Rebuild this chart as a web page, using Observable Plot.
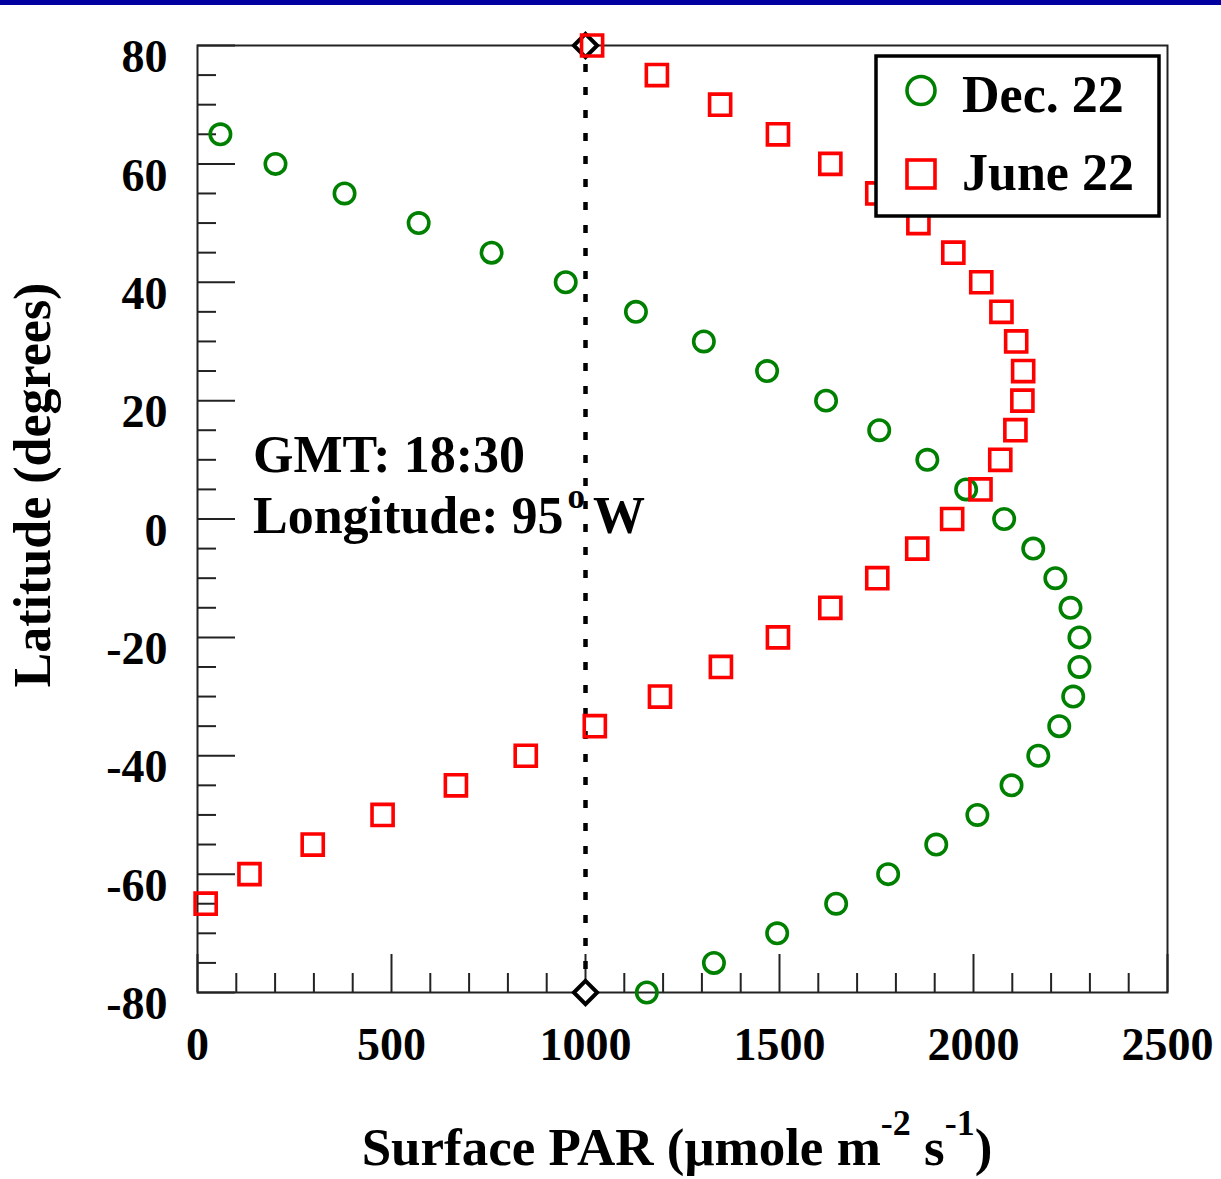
<!DOCTYPE html>
<html>
<head>
<meta charset="utf-8">
<script src="https://cdn.jsdelivr.net/npm/d3@7"></script>
<script src="https://cdn.jsdelivr.net/npm/@observablehq/plot@0.6"></script>
<style>
  html, body { margin: 0; padding: 0; background: #fff; }
  #chart svg { display: block; }
</style>
</head>
<body>
<div id="chart"></div>
<script>
// ---- Data ----
const decLatitude = [65, 60, 55, 50, 45, 40, 35, 30, 25, 20, 15, 10, 5, 0, -5, -10, -15, -20, -25, -30, -35, -40, -45, -50, -55, -60, -65, -70, -75, -80];
const decPAR = [59, 201, 379, 570, 758, 949, 1130, 1305, 1468, 1620, 1757, 1881, 1981, 2079, 2154, 2211, 2250, 2273, 2273, 2257, 2221, 2167, 2098, 2010, 1904, 1780, 1646, 1494, 1331, 1158];

const junLatitude = [80, 75, 70, 65, 60, 55, 50, 45, 40, 35, 30, 25, 20, 15, 10, 5, 0, -5, -10, -15, -20, -25, -30, -35, -40, -45, -50, -55, -60, -65];
const junPAR = [1017, 1184, 1347, 1496, 1631, 1752, 1858, 1948, 2020, 2072, 2110, 2128, 2126, 2108, 2069, 2018, 1945, 1855, 1752, 1631, 1496, 1349, 1192, 1024, 846, 666, 477, 297, 134, 21];

const seriesNames = ["Dec. 22", "June 22"];
const markerLine = { par: 1000, latFrom: -80, latTo: 80 };

const xMajorTicks = [0, 500, 1000, 1500, 2000, 2500];
const xMinorTicks = [100, 200, 300, 400, 600, 700, 800, 900, 1100, 1200, 1300, 1400, 1600, 1700, 1800, 1900, 2100, 2200, 2300, 2400];
const yMajorTicks = [-80, -60, -40, -20, 0, 20, 40, 60, 80];
const yMinorTicks = [-75, -70, -65, -55, -50, -45, -35, -30, -25, -15, -10, -5, 5, 10, 15, 25, 30, 35, 45, 50, 55, 65, 70, 75];

const xTitle = ["Surface PAR (\u03bcmole m", "-2", " s", "-1", ")"];
const yTitle = "Latitude (degrees)";
const noteLine1 = "GMT: 18:30";
const noteLine2 = ["Longitude: 95", "o", "W"];

// ---- Build tables ----
const dec = decLatitude.map((lat, i) => ({ lat, par: decPAR[i] }));
const jun = junLatitude.map((lat, i) => ({ lat, par: junPAR[i] }));
const ends = [{ par: markerLine.par, lat: markerLine.latFrom }, { par: markerLine.par, lat: markerLine.latTo }];

const W = 1221, H = 1179;
const mTop = 45, mBottom = 187, mLeft = 197, mRight = 54;
const plotH = H - mTop - mBottom;
const plotW = W - mLeft - mRight;
const GREEN = "#008000", RED = "#ff0000";
const FONT = "'Liberation Serif', 'Times New Roman', serif";

const svg = Plot.plot({
  width: W,
  height: H,
  marginTop: mTop,
  marginBottom: mBottom,
  marginLeft: mLeft,
  marginRight: mRight,
  style: { fontFamily: FONT, background: "white", color: "black", overflow: "visible" },
  x: { domain: [0, 2500] },
  y: { domain: [-80, 80] },
  marks: [
    Plot.frame({ stroke: "#222", strokeWidth: 2 }),
    // inward ticks
    Plot.ruleX(xMinorTicks, { x: d => d, insetTop: plotH - 19, stroke: "#222", strokeWidth: 2 }),
    Plot.ruleX(xMajorTicks, { x: d => d, insetTop: plotH - 38, stroke: "#222", strokeWidth: 2 }),
    Plot.ruleY(yMinorTicks, { y: d => d, insetRight: plotW - 19, stroke: "#222", strokeWidth: 2 }),
    Plot.ruleY(yMajorTicks, { y: d => d, insetRight: plotW - 38, stroke: "#222", strokeWidth: 2 }),
    Plot.axisX(xMajorTicks, { tickSize: 0, tickPadding: 35, fontSize: 46, fontWeight: "bold", tickFormat: d => String(d), label: null }),
    Plot.axisY(yMajorTicks, { tickSize: 0, tickPadding: 30, dy: 12, fontSize: 46, fontWeight: "bold", tickFormat: d => String(d), label: null }),
    // dotted reference line at 1000
    Plot.ruleX([markerLine], { x: "par", y1: "latFrom", y2: "latTo", stroke: "black", strokeWidth: 4.5, strokeDasharray: "8,15" }),
    Plot.dot(ends, { x: "par", y: "lat", symbol: "diamond2", r: 10.5, stroke: "black", strokeWidth: 4, fill: "white" }),
    // series
    Plot.dot(dec, { x: "par", y: "lat", symbol: "circle", r: 10.2, stroke: GREEN, strokeWidth: 3.6, fill: "none" }),
    Plot.dot(jun, { x: "par", y: "lat", symbol: "square", r: 11.9, stroke: RED, strokeWidth: 3.6, fill: "none" })
  ]
});

document.getElementById("chart").append(svg);
const s = d3.select(svg);

// top blue bar
s.insert("rect", ":first-child").attr("x", 0).attr("y", 0).attr("width", W).attr("height", 5).attr("fill", "#0000a0");

const g = s.append("g").attr("font-family", FONT).attr("font-weight", "bold").attr("fill", "black").attr("text-anchor", "start");

// X axis title with superscripts
const xt = g.append("text").attr("x", 677).attr("y", 1165).attr("text-anchor", "middle").attr("font-size", 53);
xt.append("tspan").text(xTitle[0]);
xt.append("tspan").attr("dy", -30).attr("font-size", 36).text(xTitle[1]);
xt.append("tspan").attr("dy", 30).attr("font-size", 53).text(xTitle[2]);
xt.append("tspan").attr("dy", -30).attr("font-size", 36).text(xTitle[3]);
xt.append("tspan").attr("dy", 30).attr("font-size", 53).text(xTitle[4]);

// Y axis title
g.append("text").attr("transform", "translate(50,485) rotate(-90)").attr("text-anchor", "middle").attr("font-size", 52).text(yTitle);

// Annotation
g.append("text").attr("x", 253).attr("y", 472).attr("text-anchor", "start").attr("font-size", 52).text(noteLine1);
const n2 = g.append("text").attr("x", 253).attr("y", 533).attr("text-anchor", "start").attr("font-size", 52);
n2.append("tspan").text(noteLine2[0]);
n2.append("tspan").attr("dx", 4).attr("dy", -25).attr("font-size", 35).text(noteLine2[1]);
n2.append("tspan").attr("dx", 8).attr("dy", 25).attr("font-size", 52).text(noteLine2[2]);

// Legend
const lg = g.append("g");
lg.append("rect").attr("x", 876).attr("y", 56).attr("width", 283).attr("height", 160).attr("fill", "white").attr("stroke", "black").attr("stroke-width", 3.5);
lg.append("circle").attr("cx", 921).attr("cy", 90.5).attr("r", 14).attr("fill", "none").attr("stroke", GREEN).attr("stroke-width", 3.6);
lg.append("rect").attr("x", 907).attr("y", 160).attr("width", 28).attr("height", 28).attr("fill", "none").attr("stroke", RED).attr("stroke-width", 3.6);
lg.append("text").attr("x", 962).attr("y", 112).attr("text-anchor", "start").attr("font-size", 52).text(seriesNames[0]);
lg.append("text").attr("x", 962).attr("y", 190).attr("text-anchor", "start").attr("font-size", 52).text(seriesNames[1]);
</script>
</body>
</html>
